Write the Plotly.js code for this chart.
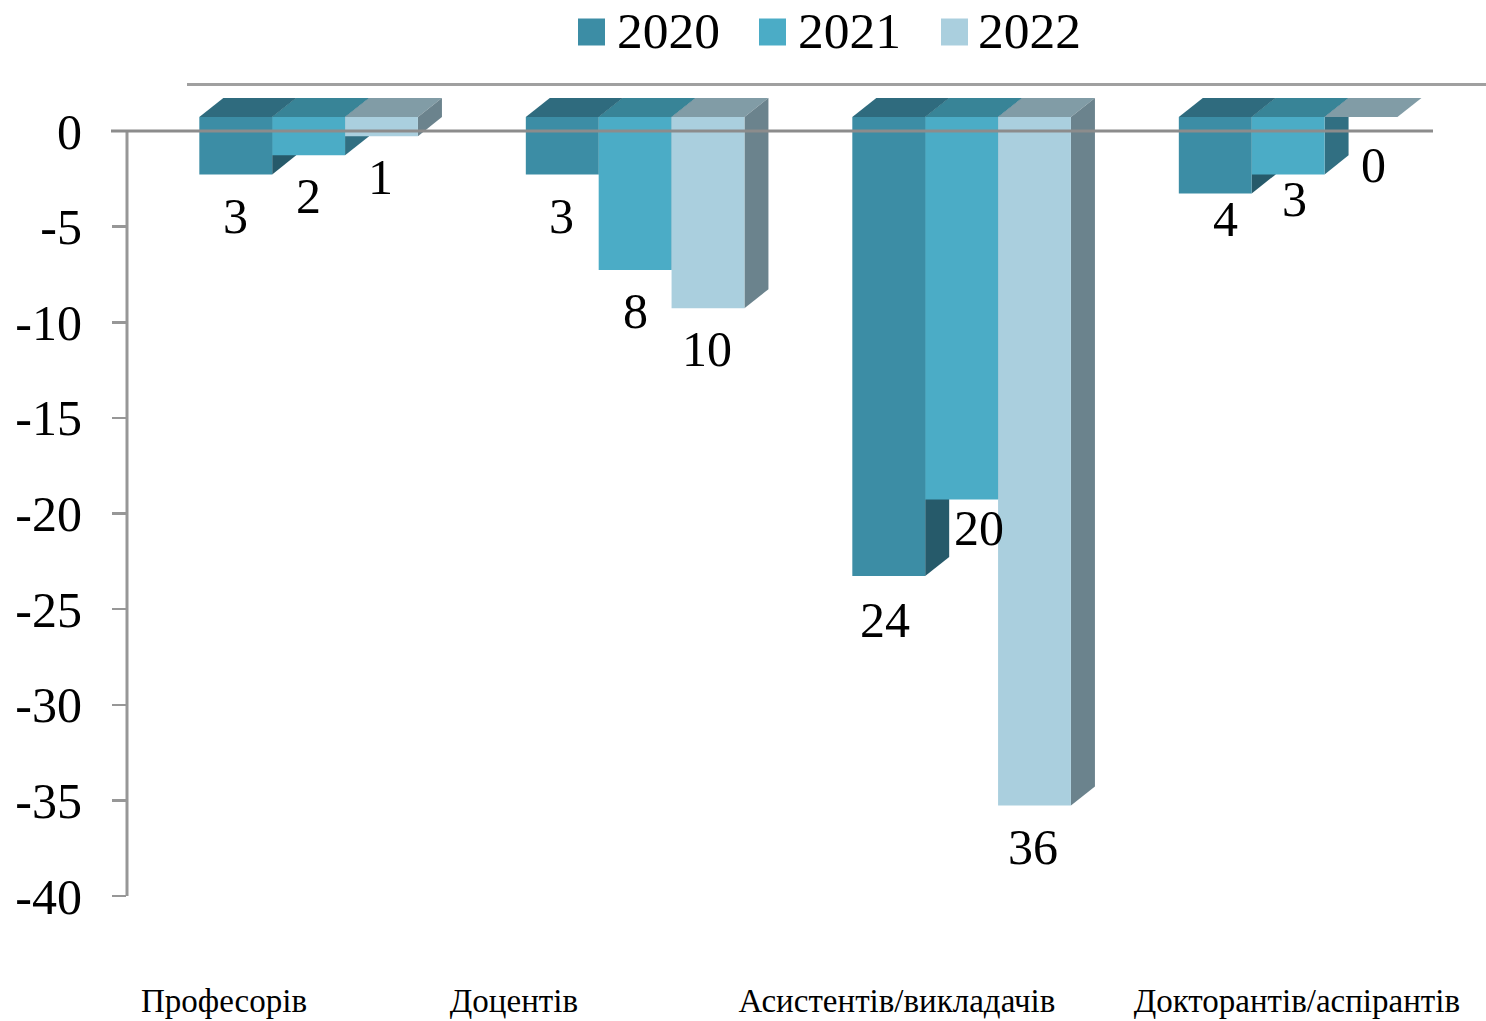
<!DOCTYPE html>
<html>
<head>
<meta charset="utf-8">
<script src="https://cdn.plot.ly/plotly-3.0.1.min.js"></script>
<style>html,body{margin:0;padding:0;background:#fff}</style>
</head>
<body>
<div id="chart" style="width:1486px;height:1021px"></div>
<script>
const categories = ['Професорів', 'Доцентів', 'Асистентів/викладачів', 'Докторантів/аспірантів'];
const categoryLabelX = [0.297, 1.185, 2.358, 3.583];
const seriesNames = ['2020', '2021', '2022'];
const values2020 = [-3, -3, -24, -4];
const values2021 = [-2, -8, -20, -3];
const values2022 = [-1, -10, -36, 0];
const yTicks = [0, -5, -10, -15, -20, -25, -30, -35, -40];
const labelDx2020 = [0, -1, -4, 10];
const labelDx2021 = [0, 0, 17, 6];
const labelDx2022 = [-1, -1, -2, 12];
const labelDy2020 = [42, 42, 44, 25];
const labelDy2021 = [41, 41, 28, 25];
const labelDy2022 = [41, 41, 41, 48];
const frontColors = ['#3C8DA5', '#4BACC6', '#AACFDE'];
const topColors = ['#2F6B7E', '#388497', '#819CA6'];
const sideColors = ['#265A6A', '#316F82', '#6B838D'];

const allValues = [values2020, values2021, values2022];
const allDx = [labelDx2020, labelDx2021, labelDx2022];
const allDy = [labelDy2020, labelDy2021, labelDy2022];

const FONT = '"Liberation Serif", serif';
const groupStart = 0.2215, barW = 0.2232;
const floorY = 0.73, depthX = 0.0735, depthY = 1.0;

const traces = [];
function poly(xs, ys, color, name) {
  traces.push({type:'scatter', mode:'none', x:xs.concat(xs[0]), y:ys.concat(ys[0]),
    fill:'toself', fillcolor:color, showlegend:false, hoverinfo:'skip', name:name});
}
categories.forEach((c, i) => {
  seriesNames.forEach((s, k) => {
    const v = allValues[k][i];
    const x0 = i + groupStart + k * barW, x1 = x0 + barW;
    const yTop = floorY, yBot = floorY + v;
    poly([x0, x0 + depthX, x1 + depthX, x1], [yTop, yTop + depthY, yTop + depthY, yTop], topColors[k], s);
    if (v !== 0) {
      poly([x1, x1 + depthX, x1 + depthX, x1], [yTop, yTop + depthY, yBot + depthY, yBot], sideColors[k], s);
      poly([x0, x1, x1, x0], [yTop, yTop, yBot, yBot], frontColors[k], s);
    }
  });
});

const annotations = [];
categories.forEach((c, i) => {
  seriesNames.forEach((s, k) => {
    const v = allValues[k][i];
    annotations.push({xref:'x', yref:'y', x:i + groupStart + (k + 0.5) * barW, y:v,
      text:String(Math.abs(v)), showarrow:false, xanchor:'center', yanchor:'middle',
      xshift:allDx[k][i], yshift:-(allDy[k][i] - 14),
      font:{family:FONT, size:50, color:'#000'}});
  });
});

const legendSwatch = [578, 759, 941], legendText = [617, 798, 978];
const L = 127, T = 60, W = 1359, H = 836;
const pxPerUnit = 19.125;
const px = p => (p - L) / W, py = p => 1 - (p - T) / H;
const shapes = [];
seriesNames.forEach((s, k) => {
  shapes.push({type:'rect', xref:'paper', yref:'paper', x0:px(legendSwatch[k]), x1:px(legendSwatch[k] + 27),
    y0:py(18.5), y1:py(45.5), fillcolor:frontColors[k], line:{width:0}});
  annotations.push({xref:'paper', yref:'paper', x:px(legendText[k]), y:py(30), text:s, showarrow:false,
    xanchor:'left', yanchor:'middle', xshift:-2, font:{family:FONT, size:51.5, color:'#000'}});
});
shapes.push({type:'line', xref:'paper', yref:'paper', x0:px(187), x1:1, y0:py(84.5), y1:py(84.5),
  line:{color:'#A0A0A0', width:3}});
shapes.push({type:'line', xref:'paper', yref:'paper', x0:px(127), x1:px(127), y0:py(131), y1:py(896),
  line:{color:'#979797', width:3}});
shapes.push({type:'line', xref:'paper', yref:'paper', x0:px(111), x1:px(1433), y0:py(131), y1:py(131),
  line:{color:'#8C8C8C', width:3}});

Plotly.newPlot('chart', traces, {
  width:1486, height:1021,
  margin:{l:L, r:0, t:T, b:1021 - T - H, pad:0},
  paper_bgcolor:'#fff', plot_bgcolor:'#fff',
  showlegend:false,
  xaxis:{range:[0, W / 326.5], tickvals:categoryLabelX, ticktext:categories, ticks:'', showgrid:false,
    zeroline:false, showline:false, ticklabelstandoff:82, tickangle:0,
    tickfont:{family:FONT, size:33, color:'#000'}},
  yaxis:{range:[-40, (131 - T) / pxPerUnit], tickvals:yTicks, ticktext:yTicks.map(String), ticks:'outside', ticklen:14, tickwidth:2.5,
    tickcolor:'#979797', showline:false, showgrid:false, zeroline:false,
    ticklabelstandoff:20, tickfont:{family:FONT, size:50, color:'#000'}},
  shapes:shapes, annotations:annotations
}, {displayModeBar:false, staticPlot:true});
</script>
</body>
</html>
